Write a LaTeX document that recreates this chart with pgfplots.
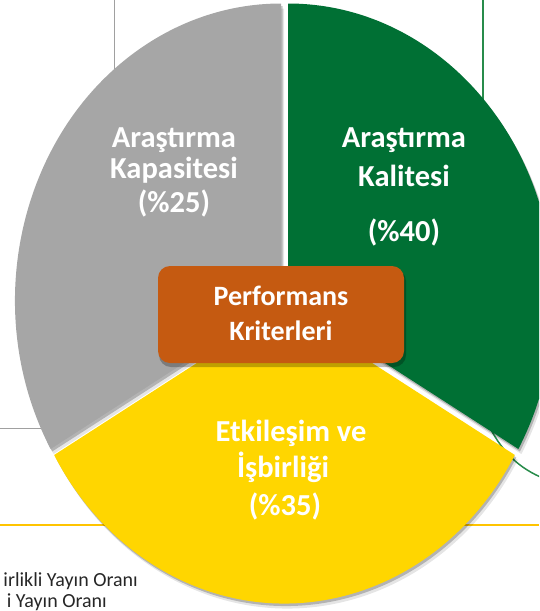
\documentclass[border=0pt]{standalone}
\usepackage{fontspec}
\setmainfont{Carlito}
\usepackage{pgfplots}
\pgfplotsset{compat=1.18}
\definecolor{pgrey}{RGB}{166,166,166}
\definecolor{pgreen}{RGB}{0,112,52}
\definecolor{pyellow}{RGB}{255,214,0}
\definecolor{porange}{RGB}{197,90,17}
\definecolor{lyellow}{RGB}{255,196,0}
\definecolor{lgreen}{RGB}{40,140,75}
\definecolor{lgrey}{RGB}{160,160,160}
\definecolor{txt}{RGB}{38,38,38}
\tikzset{lbl/.style={anchor=base, text=white, inner sep=0pt, font=\fontsize{30.5}{34}\selectfont\bfseries},
         boxlbl/.style={anchor=base, text=white, inner sep=0pt, font=\fontsize{28}{32}\selectfont\bfseries},
         foot/.style={anchor=base east, inner sep=0pt, text=txt, font=\fontsize{20}{22}\selectfont}}
% sector: cx, cy (pixel coords), start angle, end angle, style
\newcommand\sector[5]{%
  \fill[#5] (axis cs:#1,#2) -- +(#3:266pt and 297pt)
    arc[start angle=#3, end angle=#4, x radius=266pt, y radius=297pt] -- cycle;}
\newcommand\shadowsector[4]{%
  \sector{#1}{#2}{#3}{#4}{black, opacity=0.10, shift={(3pt,-5pt)}}%
  \sector{#1}{#2}{#3}{#4}{black, opacity=0.22, shift={(1.5pt,-2.5pt)}}}
\begin{document}
\begin{tikzpicture}
\useasboundingbox (0,0) rectangle (539pt,611pt);
\clip (0,0) rectangle (539pt,611pt);
\begin{axis}[
  x=1pt, y=1pt, xmin=0, xmax=539, ymin=0, ymax=611,
  y dir=reverse, hide axis, clip=false,
  anchor=south west, at={(0,0)},
  disabledatascaling,
]
% background connector lines
\addplot[lgrey, line width=1pt] coordinates {(114,0) (114,80)};
\addplot[lgreen, line width=1.5pt] coordinates {(483,0) (483,110)};
\addplot[lgrey, line width=1pt] coordinates {(0,428) (60,428)};
\addplot[lyellow, line width=1.5pt] coordinates {(0,525) (539,525)};
\draw[lgreen, line width=1.5pt] (axis cs:490,428) .. controls (axis cs:503,452) and (axis cs:518,468) .. (axis cs:545,479);
% shadows
\shadowsector{288}{300.5}{90}{-30}
\shadowsector{284.5}{306.5}{-30}{-150}
\shadowsector{281}{300.5}{210}{90}
% sectors (three equal segments of the cycle)
\sector{288}{300.5}{90}{-30}{pgreen}
\sector{284.5}{306.5}{-30}{-150}{pyellow}
\sector{281}{300.5}{210}{90}{pgrey}
% central box
\fill[black, opacity=0.25, rounded corners=12pt] (axis cs:159,269) rectangle (axis cs:406,367);
\fill[porange, rounded corners=12pt] (axis cs:158,266) rectangle (axis cs:404,363);
% labels
\node[lbl] at (axis cs:174,147) {Araştırma};
\node[lbl] at (axis cs:174,178) {Kapasitesi};
\node[lbl] at (axis cs:174,212) {(\%25)};
\node[lbl] at (axis cs:404,147) {Araştırma};
\node[lbl] at (axis cs:404,186) {Kalitesi};
\node[lbl] at (axis cs:404,241) {(\%40)};
\node[lbl] at (axis cs:291,441) {Etkileşim ve};
\node[lbl] at (axis cs:283,477) {İşbirliği};
\node[lbl] at (axis cs:285,515) {(\%35)};
\node[boxlbl] at (axis cs:281,305) {Performans};
\node[boxlbl] at (axis cs:281,340) {Kriterleri};
\node[foot] at (axis cs:138,586) {irlikli Yayın Oranı};
\node[foot] at (axis cs:107,607) {i Yayın Oranı};
\end{axis}
\end{tikzpicture}
\end{document}
